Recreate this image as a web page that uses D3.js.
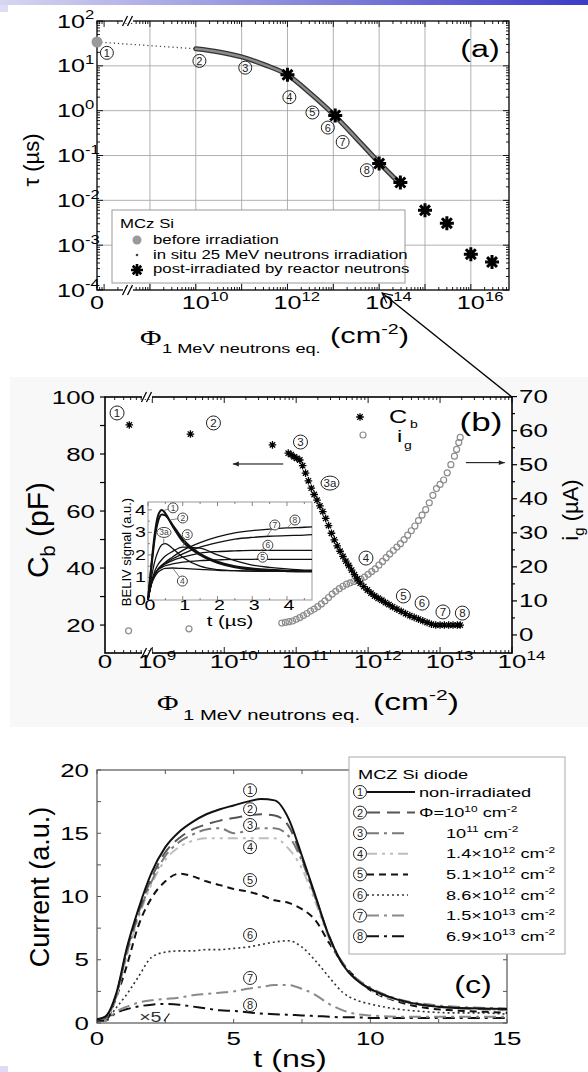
<!DOCTYPE html>
<meta charset="utf-8">
<style>
  body { margin: 0; background: #fff; }
  svg { display: block; font-family: "Liberation Sans", Arial, sans-serif; }
</style>
<svg width="588" height="1072"></svg>
<script src="https://d3js.org/d3.v7.min.js"></script>

<script>
// ---------- (a) carrier lifetime vs fluence ----------
var aZero = 7e7;                       // fluence that sits under the "0" label
var aBeforePhi = [7e7];
var aBeforeTau = [34];
var aDotPhi = [7e7, 1e10];
var aDotTau = [34, 24];
var aInSituPhi = [1e10, 3.2e10, 1e11, 3.2e11, 1e12, 3.2e12, 1e13, 3.2e13, 1e14, 2.8e14];
var aInSituTau = [24, 20.4, 15.8, 10.5, 6.3, 2.4, 0.83, 0.24, 0.069, 0.024];
var aReactorPhi = [1e12, 1.1e13, 1e14, 2.9e14, 1e15, 3e15, 1e16, 2.9e16];
var aReactorTau = [6.3, 0.78, 0.066, 0.025, 0.006, 0.0031, 0.00063, 0.00042];
var aMarkNo = ["1", "2", "3", "4", "5", "6", "7", "8"];
var aMarkPhi = [1.15e8, 1.2e10, 1.2e11, 1.1e12, 3.5e12, 7.6e12, 1.6e13, 5.4e13];
var aMarkTau = [19.5, 12.9, 9.1, 2.0, 0.91, 0.42, 0.2, 0.047];
var aXExp = ["10", "12", "14", "16"];
var aYExp = [-4, -3, -2, -1, 0, 1, 2];
var aLegend = ["before irradiation", "in situ 25 MeV neutrons irradiation", "post-irradiated by reactor neutrons"];

// ---------- (b) C_b and i_g vs fluence (log10 of fluence) ----------
var bZero = 2.2e8;
var bCbLog = [8.68, 9.53, 10.67, 10.89, 10.93, 10.97, 11.01, 11.05, 11.09, 11.13, 11.17, 11.21, 11.25, 11.29,
  11.33, 11.37, 11.41, 11.45, 11.49, 11.53, 11.57, 11.61, 11.65, 11.69, 11.73, 11.77, 11.81, 11.85, 11.89,
  11.94, 11.99, 12.04, 12.09, 12.14, 12.19, 12.24, 12.29, 12.34, 12.40, 12.46, 12.52, 12.58, 12.64, 12.70,
  12.76, 12.82, 12.88, 12.94, 13.00, 13.06, 13.12, 13.18, 13.24, 13.28];
var bCb = [90.2, 87.0, 83.2, 80.3, 79.8, 79.0, 78.5, 77.9, 75.9, 73.3, 70.6, 68.0, 65.8, 63.8,
  61.8, 59.8, 57.4, 54.9, 52.2, 49.9, 47.8, 45.9, 44.1, 42.4, 40.9, 39.3, 37.7, 36.2, 34.7,
  33.5, 32.3, 31.2, 30.2, 29.4, 28.7, 27.9, 27.2, 26.4, 25.6, 24.8, 24.0, 23.3, 22.7, 22.1,
  21.5, 20.9, 20.3, 20.0, 20.0, 20.0, 20.0, 20.0, 20.0, 20.0];
var bIgLog = [8.67, 9.51, 10.80, 10.85, 10.90, 10.95, 11.00, 11.05, 11.10, 11.15, 11.20, 11.25, 11.30, 11.35,
  11.40, 11.45, 11.50, 11.55, 11.60, 11.65, 11.70, 11.75, 11.80, 11.85, 11.90, 11.95, 12.00, 12.05, 12.10,
  12.15, 12.20, 12.25, 12.30, 12.35, 12.40, 12.45, 12.50, 12.55, 12.60, 12.65, 12.70, 12.75, 12.80, 12.85,
  12.90, 12.95, 13.00, 13.05, 13.10, 13.15, 13.20, 13.23, 13.26, 13.28];
var bIg = [1.2, 1.8, 3.5, 3.7, 3.9, 4.1, 4.6, 5.1, 5.7, 6.3, 7.0, 7.6, 8.3, 9.1,
  10.0, 11.0, 12.0, 12.8, 13.6, 14.3, 14.9, 15.3, 15.7, 16.0, 16.4, 17.0, 17.8, 18.6, 19.4,
  20.5, 21.6, 22.7, 23.8, 24.8, 25.8, 26.8, 28.0, 29.3, 30.6, 32.0, 33.6, 35.2, 36.8, 38.8,
  41.0, 43.0, 44.2, 45.5, 47.6, 50.0, 52.5, 54.5, 56.5, 58.0];
var bMarkNo = ["1", "2", "3", "3a", "4", "5", "6", "7", "8"];
var bMarkLog = [8.51, 9.85, 11.06, 11.47, 11.97, 12.49, 12.75, 13.04, 13.31];
var bMarkCb = [94.4, 90.9, 84.2, 69.8, 43.5, 30.2, 27.7, 24.6, 24.2];
var bXExp = ["9", "10", "11", "12", "13", "14"];

// inset: BELIV signal vs t (µs)
var iT = [0, 0.1, 0.2, 0.3, 0.4, 0.5, 0.7, 1.0, 1.5, 2.0, 2.5, 3.0, 3.5, 4.0, 4.5, 4.72];
var iSig = [
  [0, 1.6, 3.0, 3.8, 4.0, 3.85, 3.3, 2.6, 2.0, 1.65, 1.45, 1.35, 1.3, 1.28, 1.27, 1.27],
  [0, 1.5, 2.8, 3.55, 3.8, 3.75, 3.35, 2.7, 2.05, 1.7, 1.5, 1.4, 1.34, 1.3, 1.29, 1.29],
  [0, 0.8, 1.3, 1.6, 1.8, 1.95, 2.15, 2.35, 2.3, 2.0, 1.75, 1.55, 1.45, 1.38, 1.33, 1.32],
  [0, 1.0, 1.75, 2.2, 2.45, 2.5, 2.3, 1.9, 1.5, 1.35, 1.3, 1.28, 1.27, 1.27, 1.27, 1.27],
  [0, 0.7, 1.05, 1.25, 1.35, 1.4, 1.42, 1.4, 1.36, 1.32, 1.3, 1.28, 1.27, 1.27, 1.27, 1.27],
  [0, 0.75, 1.15, 1.35, 1.45, 1.52, 1.6, 1.68, 1.75, 1.78, 1.8, 1.8, 1.8, 1.8, 1.8, 1.8],
  [0, 0.75, 1.15, 1.38, 1.5, 1.6, 1.75, 1.9, 2.08, 2.15, 2.18, 2.2, 2.2, 2.2, 2.2, 2.2],
  [0, 0.75, 1.15, 1.38, 1.52, 1.63, 1.82, 2.05, 2.35, 2.55, 2.7, 2.78, 2.83, 2.86, 2.88, 2.9],
  [0, 0.75, 1.15, 1.4, 1.55, 1.68, 1.9, 2.2, 2.55, 2.8, 2.98, 3.08, 3.15, 3.2, 3.23, 3.25]
];
var iMarkNo = ["1", "2", "3", "3a", "4", "5", "6", "7", "8"];
var iMarkT = [0.72, 1.0, 1.13, 0.46, 0.99, 3.3, 3.45, 3.65, 4.23];
var iMarkV = [4.09, 3.64, 2.9, 3.0, 0.84, 1.9, 2.43, 3.33, 3.55];
var iMarkToT = [0.45, 0.62, 1.0, 0.45, 0.72, 3.05, 3.25, 3.42, 4.0];
var iMarkToV = [3.97, 3.55, 2.38, 2.48, 1.4, 1.8, 2.2, 2.83, 3.2];

// ---------- (c) current transients ----------
var cT = [0, 0.3, 0.7, 1.1, 1.5, 2, 2.5, 3, 3.5, 4, 4.5, 5, 5.5, 6, 6.5, 7, 7.5, 8, 8.5, 9, 9.5, 10, 11, 12, 13, 14, 15];
var cCur = [
  [0.3, 0.5, 2.3, 6.0, 8.9, 11.9, 13.9, 15.1, 15.9, 16.5, 16.9, 17.2, 17.5, 17.7, 17.6, 16.2, 13.2, 10.0, 6.8, 4.6, 3.4, 2.7, 1.85, 1.4, 1.2, 1.15, 1.1],
  [0.3, 0.4, 2.2, 5.8, 8.6, 11.5, 13.5, 14.6, 15.3, 15.7, 16.0, 16.2, 16.4, 16.5, 16.4, 15.6, 13.0, 9.9, 6.8, 4.6, 3.4, 2.7, 1.85, 1.4, 1.2, 1.1, 1.05],
  [0.3, 0.4, 2.1, 5.6, 8.4, 11.2, 13.2, 14.3, 14.9, 15.3, 15.4, 15.0, 15.2, 15.4, 15.4, 14.8, 12.8, 9.8, 6.8, 4.7, 3.5, 2.8, 1.9, 1.5, 1.3, 1.2, 1.15],
  [0.3, 0.4, 2.0, 5.4, 8.2, 11.0, 12.9, 13.9, 14.4, 14.6, 14.6, 14.6, 14.6, 14.6, 14.6, 13.8, 12.2, 9.5, 6.6, 4.6, 3.4, 2.6, 1.8, 1.4, 1.2, 1.1, 1.0],
  [0.2, 0.2, 2.0, 4.6, 7.6, 9.9, 11.2, 11.8, 11.6, 11.2, 10.9, 10.6, 10.4, 10.1, 9.7, 9.5, 9.0, 8.1, 6.3, 4.7, 3.5, 2.6, 1.7, 1.2, 1.0, 0.9, 0.8],
  [0.2, 0.2, 1.2, 2.3, 3.6, 5.2, 5.6, 5.7, 5.7, 5.8, 5.8, 5.9, 6.0, 6.2, 6.4, 6.5, 6.0, 4.9, 3.6, 2.4, 1.8, 1.5, 1.1, 0.9, 0.8, 0.8, 0.7],
  [0.2, 0.2, 0.9, 1.3, 1.6, 1.8, 1.9, 2.0, 2.2, 2.3, 2.4, 2.5, 2.7, 2.85, 3.0, 3.0, 2.7, 2.2, 1.5, 1.0, 0.7, 0.6, 0.5, 0.5, 0.5, 0.5, 0.5],
  [0.2, 0.2, 0.8, 1.1, 1.3, 1.45, 1.5, 1.45, 1.3, 1.15, 1.0, 0.95, 0.85, 0.75, 0.7, 0.65, 0.6, 0.55, 0.5, 0.45, 0.45, 0.4, 0.4, 0.4, 0.4, 0.4, 0.4]
];
var cMarkNo = ["1", "2", "3", "4", "5", "6", "7", "8"];
var cMarkT = [5.6, 5.6, 5.6, 5.6, 5.6, 5.6, 5.6, 5.6];
var cMarkV = [18.4, 16.9, 15.65, 13.9, 11.3, 6.96, 3.56, 1.42];
var cLegPre = ["non-irradiated", "\u03a6=10", "10", "1.4\u00d710", "5.1\u00d710", "8.6\u00d710", "1.5\u00d710", "6.9\u00d710"];
var cLegExp = ["", "10", "11", "12", "12", "12", "13", "13"];

// line styles of (c)
var cColor = ["#111", "#555", "#7a7a7a", "#bdbdbd", "#111", "#333", "#8a8a8a", "#111"];
var cDash = [null, "13,7", "12,5,3,5", "10,5,3,5,3,5", "7,5", "2,3", "12,5,3,5", "12,5,3,5"];
var cWidth = [2, 2, 2, 2, 2, 1.6, 2, 2];
</script>

<script>
var svg = d3.select("svg");
var SX = 1.4;   // the figure's lettering is stretched sideways

function txt(g, x, y, size, anchor, s) {
  var t = g.append("text")
    .attr("transform", "translate(" + x + "," + y + ") scale(" + SX + ",1)")
    .attr("font-size", size)
    .attr("text-anchor", anchor || "start");
  if (s != null) t.text(s);
  return t;
}
function vtxt(g, x, y, size) {
  return g.append("text")
    .attr("transform", "translate(" + x + "," + y + ") rotate(-90)")
    .attr("font-size", size)
    .attr("text-anchor", "middle");
}
function powX(g, x, y, size, e) {
  txt(g, x, y, size, "middle", "10");
  txt(g, x + 0.56 * size * SX, y - 0.45 * size, 0.66 * size, "start", e);
}
function powY(g, x, y, size, e) {
  txt(g, x, y, size, "end", "10");
  txt(g, x, y - 0.45 * size, 0.66 * size, "start", e);
}
function line(g, x1, y1, x2, y2, w, c) {
  return g.append("line").attr("x1", x1).attr("y1", y1).attr("x2", x2).attr("y2", y2)
    .attr("stroke", c || "#000").attr("stroke-width", w || 1);
}
function mark(g, x, y, s, r, fs, c) {
  if (s.length > 1)
    g.append("ellipse").attr("cx", x).attr("cy", y).attr("rx", r + 2).attr("ry", r)
      .attr("fill", "none").attr("stroke", c || "#222");
  else
    g.append("circle").attr("cx", x).attr("cy", y).attr("r", r)
      .attr("fill", "none").attr("stroke", c || "#222");
  g.append("text").attr("x", x).attr("y", y + fs * 0.36).attr("font-size", fs)
    .attr("text-anchor", "middle").attr("fill", c || "#222").text(s);
}
function star(r) {
  var d = r * 0.7071;
  return "M" + (-r) + ",0H" + r + "M0," + (-r) + "V" + r +
    "M" + (-d) + "," + (-d) + "L" + d + "," + d + "M" + (-d) + "," + d + "L" + d + "," + (-d);
}
function logTicks(lo, hi) {
  var out = [];
  for (var e = Math.floor(Math.log10(lo)); e <= Math.ceil(Math.log10(hi)); e++)
    for (var k = 1; k <= 9; k++) {
      var v = k * Math.pow(10, e);
      if (v >= lo * 0.999 && v <= hi * 1.001) out.push({ v: v, major: k === 1 });
    }
  return out;
}
function breakMark(g, x, y, bg) {
  g.append("rect").attr("x", x - 5).attr("y", y - 2).attr("width", 10).attr("height", 4).attr("fill", bg);
  line(g, x - 5.5, y + 5, x - 0.5, y - 5, 1.3);
  line(g, x - 0.5, y + 5, x + 4.5, y - 5, 1.3);
}

// page decoration
var defs = svg.append("defs");
var grad = defs.append("linearGradient").attr("id", "bar");
grad.append("stop").attr("offset", "0%").attr("stop-color", "#d6d6f2");
grad.append("stop").attr("offset", "100%").attr("stop-color", "#3c3cc6");
defs.append("marker").attr("id", "open").attr("viewBox", "0 0 12 12").attr("refX", 11).attr("refY", 6)
  .attr("markerWidth", 12).attr("markerHeight", 12).attr("markerUnits", "userSpaceOnUse").attr("orient", "auto")
  .append("path").attr("d", "M1,1L11,6L1,11").attr("fill", "none").attr("stroke", "#000").attr("stroke-width", 1.2);
defs.append("marker").attr("id", "tri").attr("viewBox", "0 0 10 10").attr("refX", 10).attr("refY", 5)
  .attr("markerWidth", 8).attr("markerHeight", 6).attr("markerUnits", "userSpaceOnUse").attr("orient", "auto")
  .append("path").attr("d", "M0,1L10,5L0,9Z").attr("fill", "#222");

svg.append("rect").attr("width", 588).attr("height", 5).attr("fill", "url(#bar)");
svg.append("rect").attr("y", 5).attr("width", 8).attr("height", 7).attr("fill", "#dcdcf4");
svg.append("rect").attr("y", 1066).attr("width", 8).attr("height", 6).attr("fill", "#dcdcf4");
svg.append("rect").attr("x", 10).attr("y", 377).attr("width", 578).attr("height", 350).attr("fill", "#f8f8f8");

// ======================= (a) =======================
var ga = svg.append("g");
var ax = d3.scaleLog().domain([aZero, 6.8e16]).range([97, 509]);
var ay = d3.scaleLog().domain([1e-4, 1e2]).range([290, 21]);
var aL = 97, aR = 509, aT = 21, aB = 290;

ga.append("rect").attr("x", aL).attr("y", aT).attr("width", aR - aL).attr("height", aB - aT).attr("fill", "#fff");
ga.selectAll("line.gx").data(d3.range(9, 17)).join("line").attr("class", "gx")
  .attr("x1", function (d) { return ax(Math.pow(10, d)); })
  .attr("x2", function (d) { return ax(Math.pow(10, d)); })
  .attr("y1", aT).attr("y2", aB).attr("stroke", "#a8a8a8").attr("stroke-width", 0.9);
ga.selectAll("line.gy").data(d3.range(-3, 2)).join("line").attr("class", "gy")
  .attr("y1", function (d) { return ay(Math.pow(10, d)); })
  .attr("y2", function (d) { return ay(Math.pow(10, d)); })
  .attr("x1", aL).attr("x2", aR).attr("stroke", "#a8a8a8").attr("stroke-width", 0.9);

logTicks(aZero, 6.8e16).forEach(function (t) {
  var x = ax(t.v), n = t.major ? 6 : 3;
  line(ga, x, aB, x, aB - n, 0.9);
  line(ga, x, aT, x, aT + n, 0.9);
});
logTicks(1e-4, 1e2).forEach(function (t) {
  var y = ay(t.v), n = t.major ? 6 : 3;
  line(ga, aL, y, aL + n, y, 0.9);
  line(ga, aR, y, aR - n, y, 0.9);
});
ga.append("rect").attr("x", aL).attr("y", aT).attr("width", aR - aL).attr("height", aB - aT)
  .attr("fill", "none").attr("stroke", "#000").attr("stroke-width", 1.3);
breakMark(ga, 128, aT, "#fff");
breakMark(ga, 128, aB, "#fff");

txt(ga, ax(aZero), 309, 18, "middle", "0");
aXExp.forEach(function (e) { powX(ga, ax(Math.pow(10, +e)), 309, 18, e); });
aYExp.forEach(function (e) { powY(ga, 85, ay(Math.pow(10, e)) + 6.5, 18, String(e)); });

// legend (a)
ga.append("rect").attr("x", 112).attr("y", 210).attr("width", 293).attr("height", 73)
  .attr("fill", "#fff").attr("stroke", "#999");
txt(ga, 120, 228, 12, "start", "MCz Si");
aLegend.forEach(function (s, i) { txt(ga, 153, 244 + i * 14.7, 12, "start", s); });
ga.append("circle").attr("cx", 137).attr("cy", 240).attr("r", 4.5).attr("fill", "#9a9a9a");
ga.append("circle").attr("cx", 137).attr("cy", 255).attr("r", 1.3).attr("fill", "#444");
ga.append("path").attr("transform", "translate(137,270)").attr("d", star(6))
  .attr("stroke", "#000").attr("stroke-width", 2.6);

// data (a)
var aLine = d3.line().x(function (d) { return ax(d[0]); }).y(function (d) { return ay(d[1]); });
ga.append("path").attr("d", aLine(d3.zip(aDotPhi, aDotTau)))
  .attr("fill", "none").attr("stroke", "#444").attr("stroke-width", 1.3).attr("stroke-dasharray", "1.2,3");
var inSitu = aLine.curve(d3.curveMonotoneX)(d3.zip(aInSituPhi, aInSituTau));
ga.append("path").attr("d", inSitu).attr("fill", "none").attr("stroke", "#333")
  .attr("stroke-width", 5).attr("stroke-linecap", "round");
ga.append("path").attr("d", inSitu).attr("fill", "none").attr("stroke", "#8c8c8c")
  .attr("stroke-width", 2.4).attr("stroke-linecap", "round");
ga.selectAll("circle.before").data(d3.zip(aBeforePhi, aBeforeTau)).join("circle").attr("class", "before")
  .attr("cx", function (d) { return ax(d[0]); }).attr("cy", function (d) { return ay(d[1]); })
  .attr("r", 5.5).attr("fill", "#9a9a9a");
ga.selectAll("path.react").data(d3.zip(aReactorPhi, aReactorTau)).join("path").attr("class", "react")
  .attr("transform", function (d) { return "translate(" + ax(d[0]) + "," + ay(d[1]) + ")"; })
  .attr("d", star(7)).attr("stroke", "#000").attr("stroke-width", 3);
aMarkNo.forEach(function (s, i) {
  mark(ga, ax(aMarkPhi[i]), ay(aMarkTau[i]), s, 6.5, 11);
});

txt(ga, 480, 57, 23, "middle", "(a)");
vtxt(ga, 39, 160, 22).text("\u03c4 (\u00b5s)");
txt(ga, 140, 345, 21, "start", "\u03a6").attr("font-family", "Liberation Serif");
txt(ga, 162, 353, 13, "start", "1 MeV neutrons eq.");
var ta = txt(ga, 330, 343, 22, "start");
ta.append("tspan").text("(cm");
ta.append("tspan").attr("dy", -9).attr("font-size", 14).text("-2");
ta.append("tspan").attr("dy", 9).text(")");

// ======================= (b) =======================
var gb = svg.append("g");
var bL = 105, bR = 512, bT = 397, bB = 653;
var bx = d3.scaleLog().domain([bZero, 1e14]).range([bL, bR]);
var byC = d3.scaleLinear().domain([10.2, 100]).range([bB, bT]);
var byI = d3.scaleLinear().domain([-5.3, 70]).range([bB, 396.6]);
function bX(lg) { return bx(Math.pow(10, lg)); }

gb.append("rect").attr("x", bL).attr("y", bT).attr("width", bR - bL).attr("height", bB - bT).attr("fill", "#fff");
logTicks(bZero, 1e14).forEach(function (t) {
  var x = bx(t.v), n = t.major ? 6 : 3;
  line(gb, x, bB, x, bB - n, 0.9);
  line(gb, x, bT, x, bT + n, 0.9);
});
d3.range(20, 101, 10).forEach(function (v) { line(gb, bL, byC(v), bL - 5, byC(v), 1.2); });
d3.range(0, 71, 5).forEach(function (v) { line(gb, bR, byI(v), bR + (v % 10 ? 3 : 5), byI(v), 1.2); });
gb.append("rect").attr("x", bL).attr("y", bT).attr("width", bR - bL).attr("height", bB - bT)
  .attr("fill", "none").attr("stroke", "#000").attr("stroke-width", 1.6);
breakMark(gb, 147, bT, "#fff");
breakMark(gb, 147, bB, "#fff");

d3.range(20, 101, 20).forEach(function (v) { txt(gb, 95, byC(v) + 6.5, 18.5, "end", String(v)); });
d3.range(0, 71, 10).forEach(function (v) { txt(gb, 519, byI(v) + 6.5, 18.5, "start", String(v)); });
txt(gb, bL, 668, 18.5, "middle", "0");
bXExp.forEach(function (e) { powX(gb, bX(+e), 668, 18.5, e); });

// inset
var ix = d3.scaleLinear().domain([0, 4.72]).range([148, 312]);
var iy = d3.scaleLinear().domain([0, 4.35]).range([600, 502]);
var gi = gb.append("g");
gi.append("rect").attr("x", 148).attr("y", 502).attr("width", 164).attr("height", 98)
  .attr("fill", "#fff").attr("stroke", "#999");
d3.range(0, 4.71, 0.5).forEach(function (v) {
  var n = v % 1 ? 2 : 4;
  line(gi, ix(v), 600, ix(v), 600 - n, 0.8, "#666");
  line(gi, ix(v), 502, ix(v), 502 + n, 0.8, "#666");
});
d3.range(0, 4.31, 0.5).forEach(function (v) {
  var n = v % 1 ? 2 : 4;
  line(gi, 148, iy(v), 148 + n, iy(v), 0.8, "#666");
});
d3.range(0, 5).forEach(function (v) {
  txt(gi, ix(v) + 2, 610, 14, "middle", String(v));
  txt(gi, 146, iy(v) + 5, 14, "end", String(v));
});
txt(gi, 230, 626, 14.5, "middle", "t (\u00b5s)");
vtxt(gi, 131, 552, 13).text("BELIV signal (a.u.)");
var iLine = d3.line().curve(d3.curveMonotoneX)
  .x(function (d) { return ix(d[0]); }).y(function (d) { return iy(d[1]); });
iSig.forEach(function (s, k) {
  gi.append("path").attr("d", iLine(d3.zip(iT, s))).attr("fill", "none")
    .attr("stroke", "#111").attr("stroke-width", k < 2 ? 2 : 1.3);
});
iMarkNo.forEach(function (s, i) {
  line(gi, ix(iMarkT[i]), iy(iMarkV[i]), ix(iMarkToT[i]), iy(iMarkToV[i]), 0.7, "#555");
  gi.append("circle").attr("cx", ix(iMarkT[i])).attr("cy", iy(iMarkV[i])).attr("r", s.length > 1 ? 6 : 5)
    .attr("fill", "#fff");
  mark(gi, ix(iMarkT[i]), iy(iMarkV[i]), s, 5, 8.5, "#444");
});

// data (b)
gb.selectAll("circle.ig").data(d3.zip(bIgLog, bIg)).join("circle").attr("class", "ig")
  .attr("cx", function (d) { return bX(d[0]); }).attr("cy", function (d) { return byI(d[1]); })
  .attr("r", 3).attr("fill", "none").attr("stroke", "#8c8c8c").attr("stroke-width", 1.2);
gb.selectAll("path.cb").data(d3.zip(bCbLog, bCb)).join("path").attr("class", "cb")
  .attr("transform", function (d) { return "translate(" + bX(d[0]) + "," + byC(d[1]) + ")"; })
  .attr("d", star(3.8)).attr("stroke", "#000").attr("stroke-width", 1.3);
bMarkNo.forEach(function (s, i) { mark(gb, bX(bMarkLog[i]), byC(bMarkCb[i]), s, 7, 11.5); });

// legend and arrows (b)
gb.append("path").attr("transform", "translate(360,417)").attr("d", star(3.8)).attr("stroke", "#000").attr("stroke-width", 1.3);
gb.append("circle").attr("cx", 363).attr("cy", 435).attr("r", 3).attr("fill", "none").attr("stroke", "#8c8c8c").attr("stroke-width", 1.2);
txt(gb, 389, 423, 18, "start", "C");
txt(gb, 410, 428, 10, "start", "b");
txt(gb, 397, 442, 17, "start", "i");
txt(gb, 404, 449, 10, "start", "g");
line(gb, bX(10.82), byC(76.5), bX(10.12), byC(76.5), 1).attr("marker-end", "url(#tri)");
line(gb, bX(13.36), byI(50.6), bX(13.9), byI(50.6), 1).attr("marker-end", "url(#tri)");

txt(gb, 481, 431, 25, "middle", "(b)");
var tb = vtxt(gb, 48, 530, 30);
tb.append("tspan").text("C");
tb.append("tspan").attr("dy", 7).attr("font-size", 20).text("b");
tb.append("tspan").attr("dy", -7).text(" (pF)");
var ti = vtxt(gb, 578, 510, 22);
ti.append("tspan").text("i");
ti.append("tspan").attr("dy", 6).attr("font-size", 15).text("g");
ti.append("tspan").attr("dy", -6).text(" (\u00b5A)");
txt(gb, 157, 710, 21, "start", "\u03a6").attr("font-family", "Liberation Serif");
txt(gb, 183, 720, 14.5, "start", "1 MeV neutrons eq.");
var tbx = txt(gb, 373, 710, 24, "start");
tbx.append("tspan").text("(cm");
tbx.append("tspan").attr("dy", -10).attr("font-size", 15).text("-2");
tbx.append("tspan").attr("dy", 10).text(")");

// link arrow from (b) up to 10^14 in (a)
line(svg, bR, bT, ax(1e14) + 3, aB + 3, 1.3).attr("marker-end", "url(#open)");

// ======================= (c) =======================
var gc = svg.append("g");
var cL = 97, cR = 507, cTp = 770, cB = 1023;
var xc = d3.scaleLinear().domain([0, 15]).range([cL, cR]);
var yc = d3.scaleLinear().domain([0, 20]).range([cB, cTp]);

d3.range(0, 15.1, 2.5).forEach(function (v) {
  line(gc, xc(v), cB, xc(v), cB - 4, 1, "#555");
  line(gc, xc(v), cTp, xc(v), cTp + 4, 1, "#555");
});
d3.range(0, 20.1, 2.5).forEach(function (v) {
  line(gc, cL, yc(v), cL + 4, yc(v), 1, "#555");
  line(gc, cR, yc(v), cR - 4, yc(v), 1, "#555");
});
gc.append("rect").attr("x", cL).attr("y", cTp).attr("width", cR - cL).attr("height", cB - cTp)
  .attr("fill", "none").attr("stroke", "#555").attr("stroke-width", 1.2);
d3.range(0, 16, 5).forEach(function (v) { txt(gc, xc(v), 1045, 18.5, "middle", String(v)); });
d3.range(0, 21, 5).forEach(function (v) { txt(gc, 89, yc(v) + 6.5, 18.5, "end", String(v)); });

var cLine = d3.line().curve(d3.curveMonotoneX)
  .x(function (d) { return xc(d[0]); }).y(function (d) { return yc(d[1]); });
cCur.slice().reverse().forEach(function (s, j) {
  var k = cCur.length - 1 - j;
  gc.append("path").attr("d", cLine(d3.zip(cT, s))).attr("fill", "none")
    .attr("stroke", cColor[k]).attr("stroke-width", cWidth[k])
    .attr("stroke-dasharray", cDash[k]);
});
cMarkNo.forEach(function (s, i) {
  gc.append("circle").attr("cx", xc(cMarkT[i])).attr("cy", yc(cMarkV[i])).attr("r", 6.5).attr("fill", "#fff");
  mark(gc, xc(cMarkT[i]), yc(cMarkV[i]), s, 6.5, 11);
});
txt(gc, xc(1.95), yc(0.1), 14, "middle", "\u00d75").attr("fill", "#333");
line(gc, xc(2.45), yc(0.15), xc(2.65), yc(0.75), 1.2, "#222");

// legend (c)
gc.append("rect").attr("x", 349).attr("y", 757).attr("width", 216).attr("height", 197)
  .attr("fill", "#fff").attr("stroke", "#aaa");
txt(gc, 358, 779, 13, "start", "MCZ Si diode");
cLegPre.forEach(function (p, i) {
  var y = 792 + i * 20.6;
  mark(gc, 360, y, String(i + 1), 6.5, 11);
  line(gc, 367, y, i < 2 ? 415 : 408, y, cWidth[i], cColor[i]).attr("stroke-dasharray", cDash[i]);
  var t = txt(gc, i < 2 ? 419 : 446, y + 4.5, 13, "start");
  t.append("tspan").text(p);
  if (cLegExp[i]) {
    t.append("tspan").attr("dy", -5.5).attr("font-size", 8.5).text(cLegExp[i]);
    t.append("tspan").attr("dy", 5.5).text(" cm");
    t.append("tspan").attr("dy", -5.5).attr("font-size", 8.5).text("-2");
  }
});

txt(gc, 473, 993, 23, "middle", "(c)");
txt(gc, 290, 1067, 23, "middle", "t (ns)");
vtxt(gc, 49, 887, 27).text("Current (a.u.)");
</script>
